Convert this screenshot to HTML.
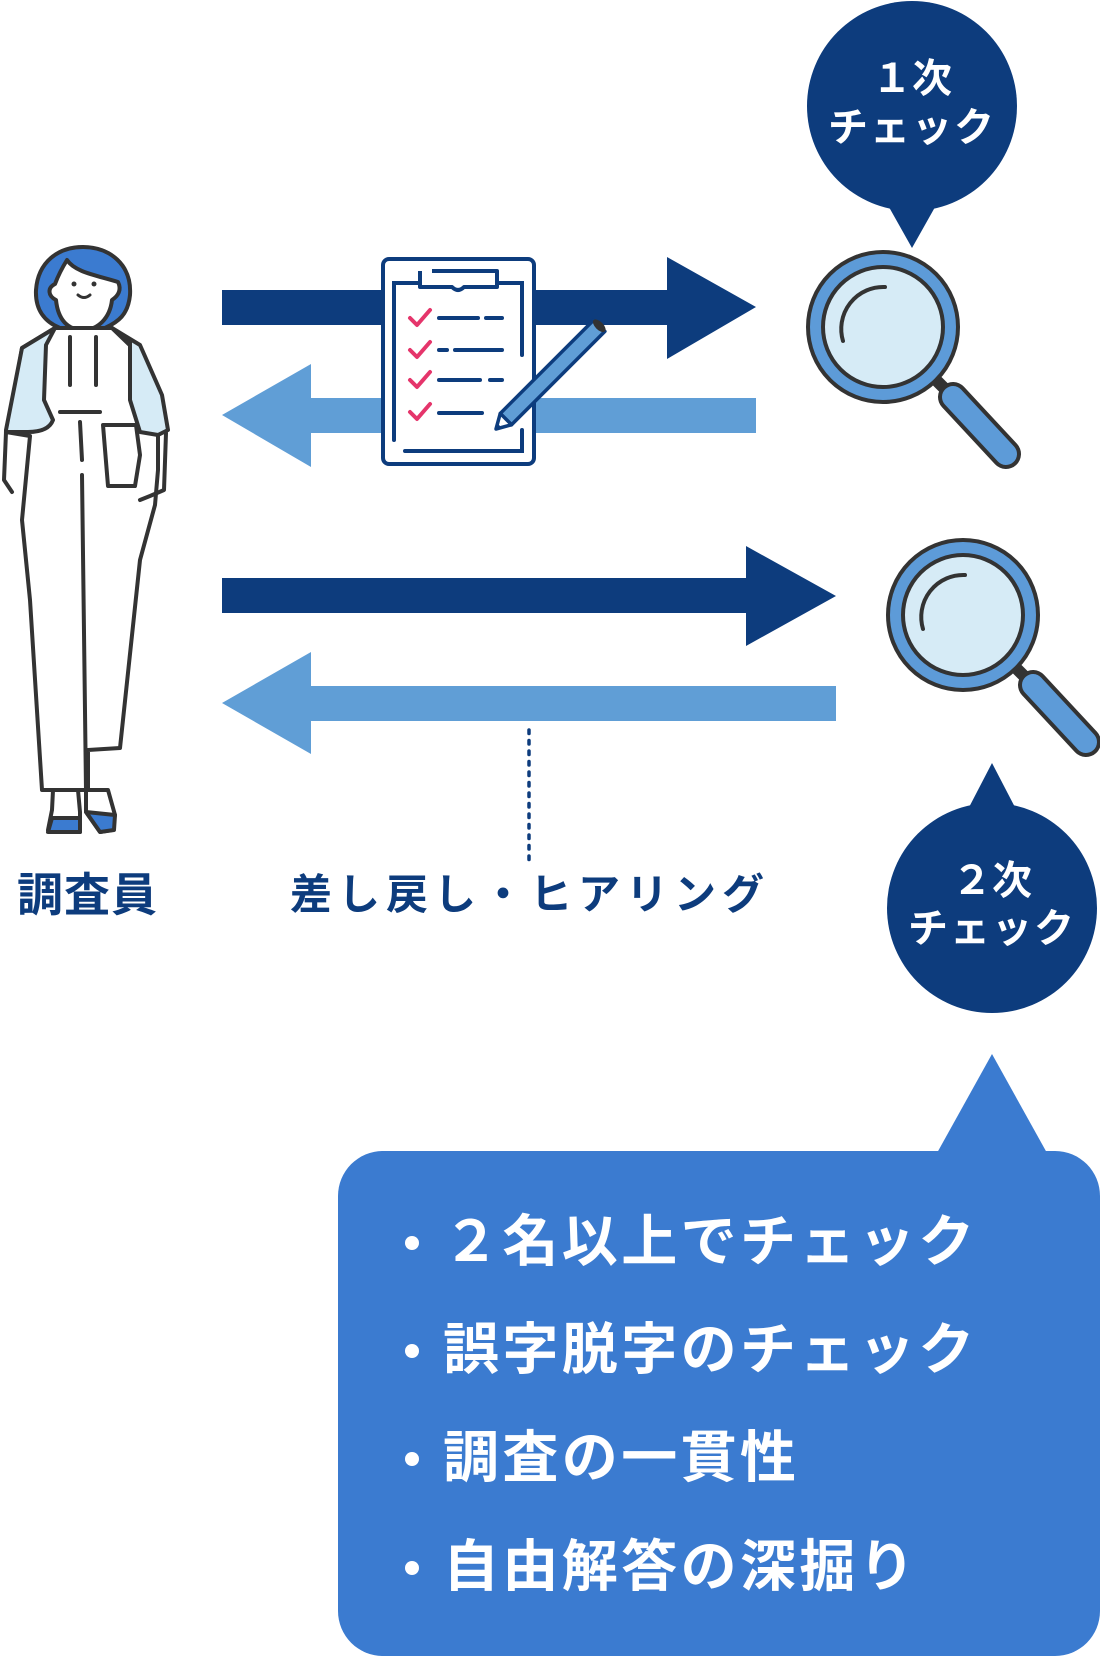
<!DOCTYPE html>
<html><head><meta charset="utf-8"><style>
html,body{margin:0;padding:0;background:#fff}
body{width:1100px;height:1656px;position:relative;overflow:hidden;font-family:"Liberation Sans","Noto Sans CJK JP",sans-serif}
.t{position:absolute;font-weight:bold;white-space:nowrap;line-height:1}
.b{position:absolute;width:14px;height:14px;border-radius:50%;background:#fff;left:405px}
.l{left:443px;font-size:56px;color:#fff;letter-spacing:3.4px}
</style></head><body>
<svg width="1100" height="1656" style="position:absolute;left:0;top:0">
<polygon points="222,290 667,290 667,257 756,307 667,359 667,325 222,325" fill="#0d3c7d"/>
<polygon points="756,398 311,398 311,364 222,415 311,467 311,433 756,433" fill="#609ed6"/>
<polygon points="222,578 746,578 746,546 836,596 746,646 746,613 222,613" fill="#0d3c7d"/>
<polygon points="836,686 311,686 311,652 222,703 311,754 311,721 836,721" fill="#609ed6"/>
<line x1="529" y1="730" x2="529" y2="862" stroke="#0d3c7d" stroke-width="3.5" stroke-dasharray="3.5,7" stroke-linecap="round"/>
<rect x="383" y="259" width="151" height="205" rx="6" fill="#fff" stroke="#0d3c7d" stroke-width="4"/>
<polyline points="394,440 394,283 420,283" fill="none" stroke="#0d3c7d" stroke-width="4" stroke-linecap="round"/>
<polyline points="498,283 522,283 522,355" fill="none" stroke="#0d3c7d" stroke-width="4" stroke-linecap="round"/>
<polyline points="522,430 522,451 405,451" fill="none" stroke="#0d3c7d" stroke-width="4" stroke-linecap="round"/>
<path d="M420,271 L420,287 L452,287 Q458,293 464,287 L497,287 L497,271 L432,271" fill="#fff" stroke="#0d3c7d" stroke-width="4" stroke-linejoin="round"/>
<g fill="none" stroke="#e5356b" stroke-width="4" stroke-linecap="round" stroke-linejoin="round">
<polyline points="410,318 417,325 430,310"/><polyline points="410,350 417,357 430,342"/><polyline points="410,380 417,387 430,372"/><polyline points="410,412 417,419 430,404"/></g>
<g stroke="#0d3c7d" stroke-width="4" stroke-linecap="round">
<line x1="439" y1="318" x2="478" y2="318"/><line x1="486" y1="318" x2="502" y2="318"/>
<line x1="439" y1="350" x2="447" y2="350"/><line x1="455" y1="350" x2="502" y2="350"/>
<line x1="439" y1="380" x2="480" y2="380"/><line x1="490" y1="380" x2="502" y2="380"/>
<line x1="439" y1="413" x2="482" y2="413"/></g>
<g transform="translate(496,429) rotate(-45)">
<rect x="14" y="-8" width="132" height="16" fill="#609ed6" stroke="#0d3c7d" stroke-width="3.5" stroke-linejoin="round"/>
<polygon points="0,0 14,-8 14,8" fill="#fff" stroke="#0d3c7d" stroke-width="3.5" stroke-linejoin="round"/>
<polygon points="0,0 5,-3 5,3" fill="#0d3c7d"/>
<ellipse cx="146" cy="0" rx="4" ry="8" fill="#333"/></g>
<circle cx="912" cy="106" r="105" fill="#0d3c7d"/>
<polygon points="885,200 939,200 912,248" fill="#0d3c7d"/>
<circle cx="992" cy="908" r="105" fill="#0d3c7d"/>
<polygon points="965,815 1019,815 992,763" fill="#0d3c7d"/>
<g transform="translate(883,327)">
<line x1="52" y1="52" x2="78" y2="78" stroke="#333" stroke-width="12"/>
<line x1="70" y1="70" x2="123" y2="127" stroke="#333" stroke-width="30" stroke-linecap="round"/>
<line x1="70" y1="70" x2="123" y2="127" stroke="#5d9bd8" stroke-width="22" stroke-linecap="round"/>
<circle r="75" fill="#5d9bd8" stroke="#333" stroke-width="4"/>
<circle r="60" fill="#d6ebf6" stroke="#333" stroke-width="4"/>
<path d="M-40,14 A42,42 0 0 1 2,-40" fill="none" stroke="#333" stroke-width="4" stroke-linecap="round"/>
</g>
<g transform="translate(963,615)">
<line x1="52" y1="52" x2="78" y2="78" stroke="#333" stroke-width="12"/>
<line x1="70" y1="70" x2="123" y2="127" stroke="#333" stroke-width="30" stroke-linecap="round"/>
<line x1="70" y1="70" x2="123" y2="127" stroke="#5d9bd8" stroke-width="22" stroke-linecap="round"/>
<circle r="75" fill="#5d9bd8" stroke="#333" stroke-width="4"/>
<circle r="60" fill="#d6ebf6" stroke="#333" stroke-width="4"/>
<path d="M-40,14 A42,42 0 0 1 2,-40" fill="none" stroke="#333" stroke-width="4" stroke-linecap="round"/>
</g>
<polygon points="937,1153 992,1054 1047,1153" fill="#3b7bd0"/>
<rect x="338" y="1151" width="762" height="505" rx="45" fill="#3b7bd0"/>
<g stroke="#333" stroke-width="4" stroke-linejoin="round" stroke-linecap="round">
<path d="M83,247 C110,247 132,265 130,295 C128,315 118,322 105,328 L60,328 C45,322 35,310 36,290 C38,262 58,247 83,247Z" fill="#3b7bd0"/>
<path d="M67,260 C75,272 95,275 118,282 C122,290 118,296 112,300 C110,318 98,330 83,330 C68,330 58,320 56,300 C48,296 47,288 55,284 C58,276 62,268 67,260Z" fill="#fff"/>
<path d="M72,330 L72,340 L58,350 L110,350 L97,340 L97,330Z" fill="#fff"/>
<path d="M55,328 L22,348 L8,430 L6,432 L30,436 L22,520 L30,600 L42,790 L88,790 L88,750 L120,748 L140,560 L155,505 L158,470 L158,430 L144,380 L140,355 L112,328Z" fill="#fff"/>
<path d="M55,328 L22,348 L6,430 L6,432 L28,432 C42,432 50,428 53,420 L44,400 L46,345 Z" fill="#d6ebf6"/>
<path d="M112,328 L140,345 L162,395 L168,430 L158,435 L140,432 L130,400 L130,340 Z" fill="#d6ebf6"/>
<path d="M6,432 L4,480 L12,492" fill="none"/>
<path d="M166,433 L164,490 L150,496 L140,500" fill="none"/>
<path d="M103,425 L108,486 L135,486 L140,455 L136,425Z" fill="#fff"/>
<line x1="60" y1="412" x2="100" y2="412"/>
<line x1="80" y1="422" x2="82" y2="460"/>
<line x1="82" y1="475" x2="86" y2="790"/>
<line x1="70" y1="337" x2="70" y2="385"/><line x1="96" y1="337" x2="96" y2="385"/>
<path d="M53,790 L52,810 L48,830 L80,832 L80,812 L78,790Z" fill="#fff"/>
<path d="M48,832 L80,832 L80,818 L52,818Z" fill="#3b7bd0"/>
<path d="M86,790 L86,812 L100,832 L112,830 L115,815 L108,790Z" fill="#fff"/>
<path d="M86,812 L100,832 L114,830 L115,815Z" fill="#3b7bd0"/>
</g>
<circle cx="74" cy="284" r="2.5" fill="#333"/><circle cx="94" cy="284" r="2.5" fill="#333"/>
<path d="M78,295 Q84,300 90,295" fill="none" stroke="#333" stroke-width="3" stroke-linecap="round"/>
</svg>
<div class="t" style="left:17px;top:872px;font-size:46px;color:#0d3c7d;letter-spacing:1px">調査員</div>
<div class="t" style="left:290px;top:874px;font-size:42px;color:#0d3c7d;letter-spacing:6px">差し戻し・ヒアリング</div>
<div class="t" style="left:812px;top:59px;width:200px;text-align:center;font-size:40px;color:#fff">１次</div>
<div class="t" style="left:812px;top:108px;width:200px;text-align:center;font-size:40px;color:#fff;letter-spacing:2px">チェック</div>
<div class="t" style="left:892px;top:861px;width:200px;text-align:center;font-size:40px;color:#fff">２次</div>
<div class="t" style="left:892px;top:909px;width:200px;text-align:center;font-size:40px;color:#fff;letter-spacing:2px">チェック</div>
<div class="b" style="top:1236px"></div><div class="t l" style="top:1214px">２名以上でチェック</div>
<div class="b" style="top:1344px"></div><div class="t l" style="top:1322px">誤字脱字のチェック</div>
<div class="b" style="top:1452px"></div><div class="t l" style="top:1430px">調査の一貫性</div>
<div class="b" style="top:1561px"></div><div class="t l" style="top:1539px">自由解答の深掘り</div>
</body></html>
